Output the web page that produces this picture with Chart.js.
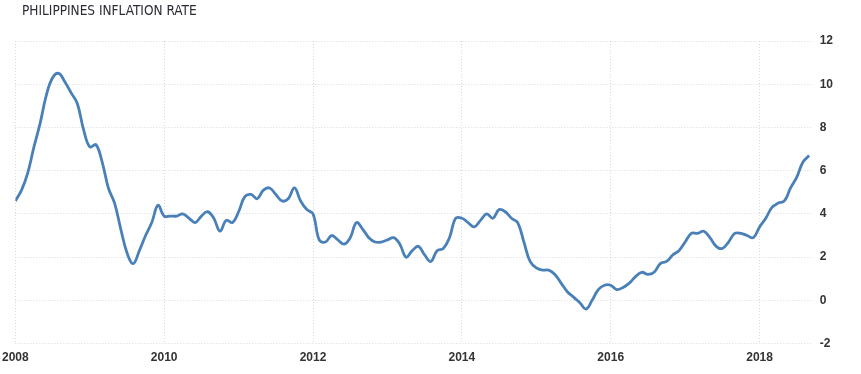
<!DOCTYPE html>
<html lang="en">
<head>
  <meta charset="UTF-8">
  <title>Philippines Inflation Rate</title>
  <script src="https://cdn.jsdelivr.net/npm/chart.js"></script>
  <style>
    html, body {
      margin: 0;
      padding: 0;
      background: #fff;
      overflow: hidden;
    }
    #wrap {
      position: relative;
      width: 861px;
      height: 374px;
      overflow: hidden;
    }
    #title {
      position: absolute;
      left: 22px;
      top: 2px;
      font-family: "DejaVu Sans Condensed", "Liberation Sans", sans-serif;
      font-size: 13.5px;
      color: #2e2a36;
      z-index: 2;
    }
    canvas {
      position: absolute;
      left: -5px;
      top: 0;
    }
  </style>
</head>
<body>
  <div id="wrap">
    <div id="title">PHILIPPINES INFLATION RATE</div>
    <canvas id="inflationChart" width="866" height="374"></canvas>
  </div>

  <script>
    // monthly values, Jan 2008 .. Sep 2018
    const startYear = 2008;
    const v2008 = [4.6, 5.1, 5.9, 7.1, 8.2, 9.5, 10.3, 10.5, 10.1, 9.6, 9.1, 7.9];
    const v2009 = [7.1, 7.2, 6.4, 5.2, 4.5, 3.3, 2.2, 1.7, 2.3, 3.0, 3.6, 4.4];
    const v2010 = [3.9, 3.9, 3.9, 4.0, 3.8, 3.6, 3.9, 4.1, 3.8, 3.2, 3.7, 3.6];
    const v2011 = [4.1, 4.8, 4.9, 4.7, 5.1, 5.2, 4.9, 4.6, 4.7, 5.2, 4.6, 4.2];
    const v2012 = [4.0, 2.8, 2.7, 3.0, 2.8, 2.6, 2.9, 3.6, 3.3, 2.9, 2.7, 2.7];
    const v2013 = [2.8, 2.9, 2.6, 2.0, 2.3, 2.5, 2.1, 1.8, 2.3, 2.4, 2.9, 3.8];
    const v2014 = [3.8, 3.6, 3.4, 3.7, 4.0, 3.8, 4.2, 4.1, 3.8, 3.6, 2.7, 1.8];
    const v2015 = [1.5, 1.4, 1.4, 1.2, 0.8, 0.4, 0.15, -0.1, -0.4, 0.0, 0.5, 0.7];
    const v2016 = [0.7, 0.5, 0.6, 0.8, 1.1, 1.3, 1.2, 1.3, 1.7, 1.8, 2.1, 2.3];
    const v2017 = [2.7, 3.1, 3.1, 3.2, 2.9, 2.5, 2.4, 2.7, 3.1, 3.1, 3.0, 2.9];
    const v2018 = [3.4, 3.8, 4.3, 4.5, 4.6, 5.2, 5.7, 6.4, 6.7];

    const yearTicks = [2008, 2010, 2012, 2014, 2016, 2018];
    const rateTicks = [-2, 0, 2, 4, 6, 8, 10, 12];

    const monthly = [].concat(v2008, v2009, v2010, v2011, v2012, v2013,
                              v2014, v2015, v2016, v2017, v2018);
    // x = decimal year of each month
    const points = monthly.map((v, i) => ({ x: startYear + i / 12, y: v }));

    const tickFont = { family: "'Liberation Sans', Arial, sans-serif", size: 12, weight: "bold" };
    const gridStyle = { color: "#d9d9d9", lineWidth: 1, drawTicks: false };

    new Chart(document.getElementById("inflationChart"), {
      type: "line",
      data: {
        datasets: [{
          data: points,
          borderColor: "#4a80b8",
          borderWidth: 2.8,
          pointRadius: 0,
          tension: 0.4,
          fill: false
        }]
      },
      options: {
        responsive: false,
        animation: false,
        layout: { padding: { left: 0, right: 20, top: 41, bottom: 2 } },
        plugins: {
          legend: { display: false },
          tooltip: { enabled: false }
        },
        scales: {
          x: {
            type: "linear",
            min: 2008,
            max: 2018.70,
            afterBuildTicks: (axis) => { axis.ticks = yearTicks.map(v => ({ value: v })); },
            ticks: {
              color: "#333",
              font: tickFont,
              padding: 7,
              maxRotation: 0,
              callback: (v) => String(v)
            },
            grid: gridStyle,
            border: { display: false, dash: [1, 2] }
          },
          y: {
            position: "right",
            min: -2,
            max: 12,
            afterBuildTicks: (axis) => { axis.ticks = rateTicks.map(v => ({ value: v })); },
            ticks: {
              color: "#333",
              font: tickFont,
              padding: 8
            },
            grid: gridStyle,
            border: { display: false, dash: [1, 2] }
          }
        }
      }
    });
  </script>
</body>
</html>
